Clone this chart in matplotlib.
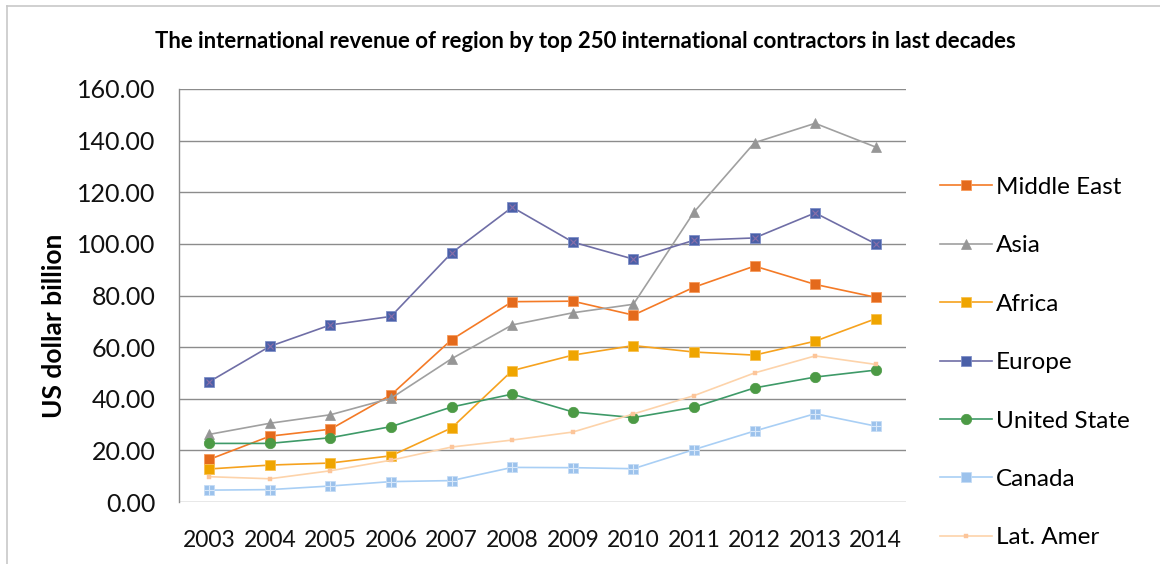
import matplotlib
matplotlib.use("Agg")
import matplotlib.pyplot as plt
from matplotlib.lines import Line2D

years = list(range(2003, 2015))
year_labels = [str(y) for y in years]

middle_east = [16.5, 25.5, 28.2, 41.5, 62.9, 77.6, 77.8, 72.4, 83.2, 91.4, 84.3, 79.3]
asia        = [26.2, 30.5, 33.8, 40.2, 55.5, 68.6, 73.3, 76.6, 112.3, 139.2, 146.7, 137.5]
africa      = [12.8, 14.3, 15.1, 17.9, 28.7, 50.9, 56.9, 60.6, 58.1, 56.9, 62.3, 71.0]
europe      = [46.6, 60.3, 68.6, 71.9, 96.5, 114.2, 100.7, 94.1, 101.4, 102.3, 112.0, 100.0]
united_state = [22.7, 22.7, 24.9, 29.2, 36.8, 41.8, 34.9, 32.7, 36.7, 44.2, 48.4, 51.1]
canada      = [4.6, 4.8, 6.2, 7.9, 8.3, 13.4, 13.3, 12.9, 20.3, 27.5, 34.2, 29.4]
lat_amer    = [9.8, 9.0, 12.1, 16.2, 21.3, 24.0, 27.1, 34.1, 41.2, 50.0, 56.6, 53.3]

y_ticks = [0, 20, 40, 60, 80, 100, 120, 140, 160]

plt.rcParams['font.family'] = ['Lato', 'DejaVu Sans']

fig = plt.figure(figsize=(11.6, 5.64), dpi=100)
ax = fig.add_axes([179/1160, 1-502/564, (906-179)/1160, (502-89)/564])

series = [
    ("Middle East", middle_east, dict(color="#F47A26", marker="s", ms=7.5, mfc="#E46A1C", mec="#F79A5A", mew=0.6)),
    ("Asia", asia, dict(color="#A0A0A0", marker="^", ms=7, mfc="#969696", mec="#969696", mew=0.5)),
    ("Africa", africa, dict(color="#F6A21E", marker="s", ms=7.5, mfc="#EFA500", mec="#F8C050", mew=0.6)),
    ("Europe", europe, dict(color="#6F6EA6", marker="s", ms=7, mfc="#4A60A8", mec="#7E8EC8", mew=0.6)),
    ("United State", united_state, dict(color="#3E9A68", marker="o", ms=7.5, mfc="#4C9A45", mec="#4C9A45", mew=0.5)),
    ("Canada", canada, dict(color="#A9CFF5", marker="s", ms=7, mfc="#9CC2EC", mec="#C4DCF6", mew=0.6)),
    ("Lat. Amer", lat_amer, dict(color="#FDD3AA", marker="s", ms=3, mfc="#FCC59A", mec="#FCC59A", mew=0.3)),
]

handles = []
for name, vals, st in series:
    ln, = ax.plot(years, vals, lw=1.2, label=name, **st)
    handles.append(ln)
    if name == "Europe":
        ax.plot(years, vals, ls="none", marker="x", ms=4, mec="#8A6FA8", mew=0.8)
    if name == "Canada":
        ax.plot(years, vals, ls="none", marker="+", ms=7, mec="#D8E8FA", mew=0.8)

ax.set_xlim(2002.5, 2014.5)
ax.set_ylim(0, 160)
ax.set_yticks(y_ticks)
ax.set_yticklabels([f"{v:.2f}" for v in y_ticks])
ax.set_xticks(years)
ax.set_xticklabels(year_labels)
ax.tick_params(axis='both', length=0, colors="#111111")
ax.tick_params(axis='x', labelsize=16.5, pad=20)
ax.tick_params(axis='y', labelsize=18, pad=17)
ax.yaxis.grid(True, color="#8C8C8C", lw=1.0)
ax.set_axisbelow(True)
for s in ["top", "right", "bottom"]:
    ax.spines[s].set_visible(False)
ax.spines["left"].set_color("#8C8C8C")
ax.spines["left"].set_linewidth(1.0)

fig.text(54/1160, 1-326/564, "US dollar billion", rotation=90, ha="center", va="center",
         fontsize=19, fontweight="bold")

fig.text(585/1160, 1-42/564, "The international revenue of region by top 250 international contractors in last decades",
         ha="center", va="center", fontsize=15.9, fontweight="bold")

leg = fig.legend(handles=handles, loc="upper left", bbox_to_anchor=(930/1160, 1-167/564),
                 frameon=False, fontsize=17.5, handlelength=2.14, labelspacing=1.54,
                 handletextpad=0.18, borderaxespad=0)

# outer frame lines (top and left)
fig.add_artist(Line2D([7/1160, 7/1160], [0, 1-6/564], color="#C8C8C8", lw=1.2, transform=fig.transFigure))
fig.add_artist(Line2D([7/1160, 1], [1-6/564, 1-6/564], color="#C8C8C8", lw=1.2, transform=fig.transFigure))

fig.savefig("out.png", dpi=100)
